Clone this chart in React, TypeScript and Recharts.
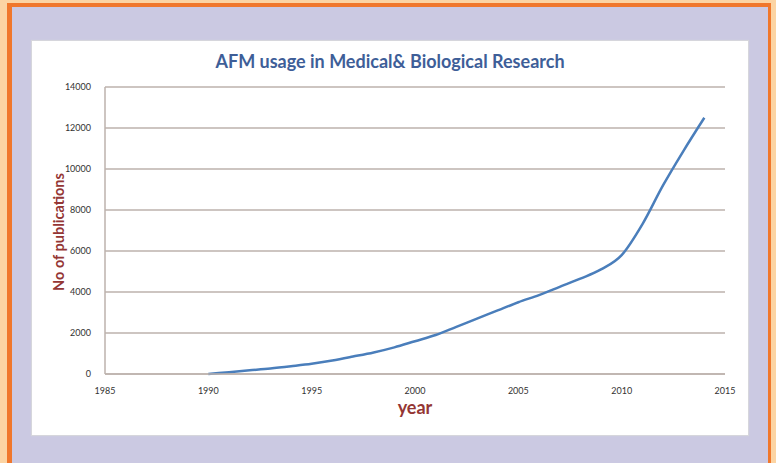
import React from "react";
import { LineChart, Line, XAxis, YAxis, CartesianGrid } from "recharts";

const years = [1990, 1991, 1992, 1993, 1994, 1995, 1996, 1997, 1998, 1999, 2000, 2001, 2002, 2003, 2004, 2005, 2006, 2007, 2008, 2009, 2010, 2011, 2012, 2013, 2014];
const publications = [0, 90, 180, 270, 380, 500, 660, 850, 1050, 1300, 1600, 1900, 2300, 2700, 3100, 3500, 3850, 4250, 4650, 5100, 5800, 7300, 9200, 10900, 12500];
const xTicks = [1985, 1990, 1995, 2000, 2005, 2010, 2015];
const yTicks = [0, 2000, 4000, 6000, 8000, 10000, 12000, 14000];

const data = years.map((y, i) => ({ year: y, value: publications[i] }));

const tickStyle = { fontSize: 9, fill: "#333333", fontFamily: "Lato, 'Open Sans', sans-serif" };

export default function App() {
  return (
    <div style={{ position: "absolute", left: 0, top: 0, width: 776, height: 463, background: "#FCD4A3", overflow: "hidden" }}>
      <div style={{ position: "absolute", left: 7, top: 3, width: 764, height: 470, background: "#F0772C" }} />
      <div style={{ position: "absolute", left: 12, top: 7, width: 756, height: 470, background: "#CBC9E2" }} />
      <div style={{ position: "absolute", left: 32, top: 41, width: 716, height: 394, background: "#FFFFFF", boxShadow: "0 0 1px 1px #D6D6DC" }}>
        <LineChart width={716} height={394} data={data} margin={{ top: 46, right: 23, bottom: 31, left: 23 }}>
          <CartesianGrid horizontal={true} vertical={false} stroke="#BDB2AD" strokeWidth={1.5} />
          <XAxis
            dataKey="year"
            type="number"
            domain={[1985, 2015]}
            ticks={xTicks}
            interval={0}
            height={30}
            tickLine={false}
            axisLine={{ stroke: "#BDB2AD", strokeWidth: 1.5 }}
            tick={tickStyle}
            tickMargin={8}
          />
          <YAxis
            type="number"
            domain={[0, 14000]}
            ticks={yTicks}
            interval={0}
            width={50}
            tickLine={false}
            axisLine={{ stroke: "#BDB2AD", strokeWidth: 1.5 }}
            tick={tickStyle}
            tickMargin={8}
          />
          <Line type="monotone" dataKey="value" stroke="#4A7EBB" strokeWidth={2.5} dot={false} isAnimationActive={false} />
        </LineChart>
        <div style={{ position: "absolute", left: 0, top: 9, width: 716, textAlign: "center", fontFamily: "Lato, sans-serif", fontWeight: 700, fontSize: 18, color: "#3E5E98" }}>
          AFM usage in Medical&amp; Biological Research
        </div>
        <div style={{ position: "absolute", left: 383, top: 355, transform: "translateX(-50%)", fontFamily: "Lato, sans-serif", fontWeight: 700, fontSize: 18, color: "#943634" }}>
          year
        </div>
        <div style={{ position: "absolute", left: 26, top: 191, transform: "translate(-50%, -50%) rotate(-90deg)", whiteSpace: "nowrap", fontFamily: "Lato, sans-serif", fontWeight: 700, fontSize: 14.5, color: "#943634" }}>
          No of publications
        </div>
      </div>
    </div>
  );
}
